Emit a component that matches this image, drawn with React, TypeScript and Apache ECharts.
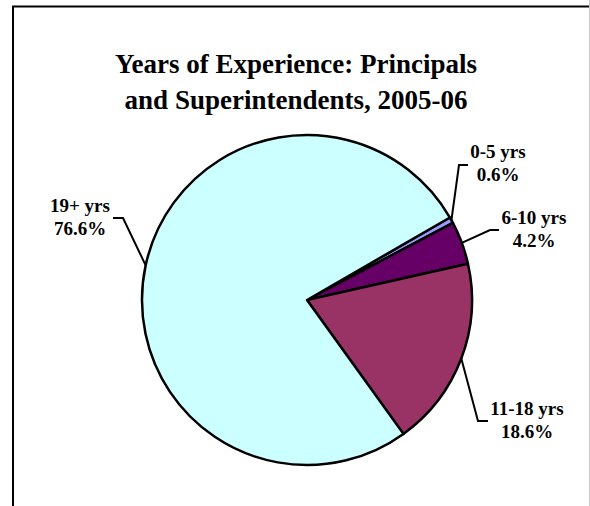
import React, { useEffect, useRef } from "react";
import * as echarts from "echarts";

const categories = ["0-5 yrs", "6-10 yrs", "11-18 yrs", "19+ yrs"];
const shares = [0.6, 4.2, 18.6, 76.6];
const colors = ["#9999FF", "#660066", "#993366", "#CCFFFF"];
const titleText = "Years of Experience: Principals\nand Superintendents, 2005-06";

// label placement: [labelCenterX, labelCenterY, elbowX, elbowY, endX]
const labelSpots = [
  [498, 163, 459, 165, 468],
  [534, 229, 490, 230, 499],
  [527, 420, 478, 421, 488],
  [80, 217, 123, 218, 113],
];

export default function App() {
  const ref = useRef<HTMLDivElement>(null);
  useEffect(() => {
    if (!ref.current) return;
    const chart = echarts.init(ref.current, null, { renderer: "svg" });
    const font = "Liberation Serif";
    chart.setOption({
      animation: false,
      backgroundColor: "#ffffff",
      textStyle: { fontFamily: font },
      title: {
        text: titleText,
        left: 291,
        textAlign: "center",
        top: 41,
        textStyle: {
          fontFamily: font,
          fontWeight: "bold",
          fontSize: 27,
          lineHeight: 36,
          color: "#000",
        },
      },
      graphic: [
        {
          type: "rect",
          shape: { x: 13, y: 6.5, width: 600, height: 600 },
          style: { fill: "none", stroke: "#000", lineWidth: 2 },
          z: -1,
        },
        {
          type: "line",
          shape: { x1: 589.5, y1: 0, x2: 589.5, y2: 506 },
          style: { stroke: "#c8c8c8", lineWidth: 1 },
        },
      ],
      series: [
        {
          type: "pie",
          center: [307, 300],
          radius: 165,
          startAngle: 30,
          clockwise: true,
          avoidLabelOverlap: false,
          data: categories.map((c, i) => ({
            name: c,
            value: shares[i],
            itemStyle: { color: colors[i] },
          })),
          itemStyle: { borderColor: "#000", borderWidth: 2.5 },
          emphasis: { disabled: true },
          label: {
            show: true,
            position: "outside",
            formatter: (p: any) => `${p.name}\n${Number(p.value).toFixed(1)}%`,
            fontFamily: font,
            fontWeight: "bold",
            fontSize: 19,
            lineHeight: 23,
            color: "#000",
            align: "center",
          },
          labelLine: {
            show: true,
            lineStyle: { color: "#000", width: 2 },
          },
          labelLayout: (params: any) => {
            const s = labelSpots[params.dataIndex];
            const p0 = params.labelLinePoints ? params.labelLinePoints[0] : [s[2], s[3]];
            return {
              x: s[0],
              y: s[1],
              align: "center",
              verticalAlign: "middle",
              labelLinePoints: [p0, [s[2], s[3]], [s[4], s[3]]],
            };
          },
        },
      ],
    });
    return () => chart.dispose();
  }, []);
  return (
    <div
      ref={ref}
      style={{ position: "fixed", left: 0, top: 0, width: 590, height: 506 }}
    />
  );
}
